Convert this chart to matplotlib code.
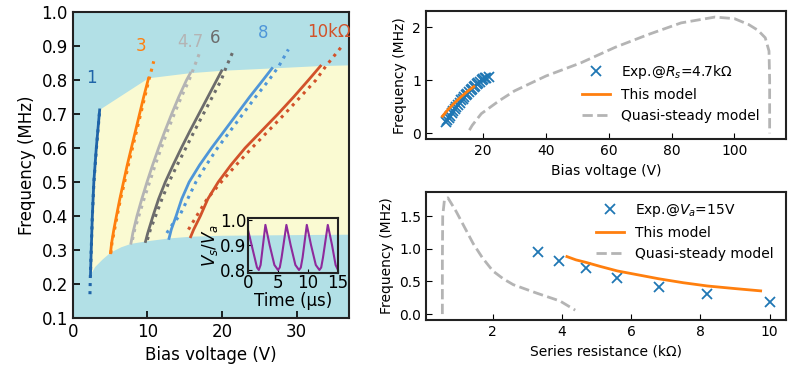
import matplotlib
matplotlib.use('Agg')
import matplotlib.pyplot as plt

plt.rcParams['font.family'] = 'DejaVu Sans'
plt.rcParams['xtick.direction'] = 'in'
plt.rcParams['ytick.direction'] = 'in'
plt.rcParams['axes.edgecolor'] = '#222222'
plt.rcParams['axes.linewidth'] = 1.5

# ---- left panel: frequency vs bias for several series resistances ----
labels = ['1', '3', '4.7', '6', '8', '10k\u03a9']
colors = ['#1f64a8', '#ff7f0e', '#b4b4b4', '#6c6c6c', '#4f96d8', '#d2522a']

model_v = [
    [2.37, 2.47, 2.62, 2.82, 3.15, 3.6],
    [5.06, 5.2, 5.5, 5.85, 6.3, 6.8, 7.3, 7.85, 8.4, 8.95, 9.5, 10.15],
    [7.8, 8.05, 8.6, 9.25, 9.95, 10.7, 11.5, 12.35, 13.25, 14.2, 15.25, 15.75],
    [9.75, 10.05, 10.75, 11.5, 12.4, 13.45, 14.55, 15.7, 16.9, 18.1, 19.3, 19.95],
    [12.9, 13.2, 13.85, 14.6, 15.6, 17.0, 18.6, 20.3, 22.0, 23.7, 25.5, 26.7],
    [15.8, 16.2, 17.1, 18.1, 19.5, 21.2, 23.1, 25.3, 27.5, 29.6, 31.6, 33.2],
]
model_f = [
    [0.226, 0.30, 0.40, 0.50, 0.60, 0.712],
    [0.292, 0.32, 0.36, 0.40, 0.45, 0.50, 0.55, 0.60, 0.65, 0.70, 0.75, 0.805],
    [0.32, 0.35, 0.40, 0.45, 0.50, 0.55, 0.60, 0.65, 0.70, 0.75, 0.80, 0.82],
    [0.325, 0.35, 0.40, 0.45, 0.50, 0.55, 0.60, 0.65, 0.70, 0.75, 0.80, 0.827],
    [0.334, 0.36, 0.40, 0.45, 0.50, 0.55, 0.60, 0.65, 0.70, 0.75, 0.80, 0.834],
    [0.339, 0.36, 0.40, 0.45, 0.50, 0.55, 0.60, 0.65, 0.70, 0.75, 0.80, 0.841],
]
exp_v = [
    [2.3, 2.35, 2.47, 2.62, 2.83, 3.17, 3.62],
    [5.1, 5.25, 5.6, 5.95, 6.4, 6.95, 7.45, 8.0, 8.55, 9.1, 9.65, 10.2, 10.85],
    [8.0, 8.3, 8.85, 9.55, 10.3, 11.05, 11.85, 12.7, 13.6, 14.55, 15.6, 16.3, 17.0],
    [10.0, 10.4, 11.1, 11.95, 12.9, 14.0, 15.15, 16.3, 17.5, 18.7, 19.9, 20.6, 21.6],
    [12.6, 13.5, 14.3, 15.4, 16.5, 17.9, 19.4, 21.1, 22.8, 24.5, 26.3, 27.6, 28.9],
    [15.5, 16.6, 18.0, 19.9, 21.9, 24.0, 26.2, 28.4, 30.5, 32.6, 33.9, 36.1],
]
exp_f = [
    [0.17, 0.22, 0.30, 0.40, 0.50, 0.60, 0.715],
    [0.29, 0.32, 0.36, 0.40, 0.45, 0.50, 0.55, 0.60, 0.65, 0.70, 0.75, 0.80, 0.855],
    [0.33, 0.36, 0.40, 0.45, 0.50, 0.55, 0.60, 0.65, 0.70, 0.75, 0.80, 0.84, 0.88],
    [0.33, 0.36, 0.40, 0.45, 0.50, 0.55, 0.60, 0.65, 0.70, 0.75, 0.80, 0.84, 0.89],
    [0.35, 0.38, 0.40, 0.45, 0.50, 0.55, 0.60, 0.65, 0.70, 0.75, 0.80, 0.84, 0.89],
    [0.36, 0.40, 0.45, 0.50, 0.55, 0.60, 0.65, 0.70, 0.75, 0.80, 0.84, 0.90],
]
label_v = [2.5, 9.1, 15.7, 19.1, 25.5, 34.3]
label_f = [0.807, 0.90, 0.913, 0.923, 0.937, 0.94]

# oscillating region boundaries
upper_v = [3.6, 10.15, 15.75, 19.95, 26.7, 33.2, 37.0]
upper_f = [0.712, 0.805, 0.82, 0.827, 0.834, 0.841, 0.843]
lower_v = [2.37, 3.0, 4.0, 5.06, 6.5, 7.8, 9.75, 12.9, 15.8, 20.0, 37.0]
lower_f = [0.226, 0.25, 0.272, 0.292, 0.308, 0.318, 0.325, 0.334, 0.339, 0.342, 0.345]

# inset waveform
t_us = [0, 0.8, 1.5, 1.8, 2.1, 2.9, 3.6, 4.4, 5.0, 5.3, 5.6, 6.4, 7.1, 7.9,
        8.5, 8.8, 9.1, 9.8, 10.5, 11.3, 11.9, 12.2, 12.5, 13.3, 14.0, 14.6, 15.0]
vs_va = [0.96, 0.88, 0.81, 0.80, 0.82, 0.98, 0.90, 0.82, 0.80, 0.81, 0.85, 0.98,
         0.90, 0.82, 0.80, 0.81, 0.85, 0.98, 0.90, 0.82, 0.80, 0.81, 0.85, 0.98,
         0.90, 0.82, 0.80]

# ---- top right: vs bias at Rs = 4.7k ----
exp_bias = [8.2, 8.6, 9.0, 9.5, 10.0, 10.5, 11.0, 11.5, 12.0, 12.5, 13.0, 13.5,
            14.0, 14.5, 15.0, 15.5, 16.0, 16.5, 17.0, 17.5, 18.0, 18.5, 19.0,
            19.5, 20.0, 20.5, 21.0, 21.7]
exp_bias_f = [0.21, 0.25, 0.29, 0.33, 0.38, 0.42, 0.46, 0.50, 0.54, 0.58, 0.62,
              0.65, 0.69, 0.72, 0.75, 0.78, 0.81, 0.84, 0.87, 0.89, 0.92, 0.95,
              0.97, 1.00, 1.02, 1.04, 1.05, 1.07]
model_bias = [7.0, 9.0, 11.0, 13.0, 15.0, 17.0]
model_bias_f = [0.32, 0.46, 0.58, 0.69, 0.79, 0.88]
qs_bias = [15.6, 16.5, 19.4, 25.0, 30.0, 40.0, 51.2, 62.0, 72.5, 83.0, 93.8,
           100.0, 104.5, 107.5, 109.8, 111.0, 111.2, 111.2]
qs_bias_f = [0.06, 0.15, 0.37, 0.61, 0.80, 1.08, 1.33, 1.62, 1.86, 2.08, 2.19,
             2.16, 2.05, 1.94, 1.80, 1.55, 1.0, 0.0]

# ---- bottom right: vs series resistance at Va = 15 V ----
exp_rs = [3.3, 3.9, 4.7, 5.6, 6.8, 8.2, 10.0]
exp_rs_f = [0.95, 0.81, 0.70, 0.55, 0.42, 0.30, 0.19]
model_rs = [4.14, 4.4, 4.7, 5.1, 5.6, 6.2, 6.8, 7.5, 8.2, 9.0, 9.74]
model_rs_f = [0.88, 0.83, 0.79, 0.73, 0.66, 0.60, 0.54, 0.48, 0.43, 0.39, 0.355]
qs_rs = [0.54, 0.54, 0.55, 0.6, 0.7, 0.94, 1.43, 1.7, 2.0, 2.3, 2.59, 3.27, 3.94, 4.38]
qs_rs_f = [0.0, 0.8, 1.5, 1.75, 1.78, 1.57, 1.08, 0.86, 0.66, 0.54, 0.45, 0.32, 0.20, 0.06]

fig = plt.figure(figsize=(8, 3.75), dpi=100)

ax = fig.add_axes([0.091, 0.152, 0.345, 0.816])
ax.set_facecolor('#b2e0e6')
poly_v = lower_v + upper_v[::-1] + model_v[0][::-1]
poly_f = lower_f + upper_f[::-1] + model_f[0][::-1]
ax.fill(poly_v, poly_f, color='#fafad2', lw=0, zorder=1)
for i in range(len(labels)):
    ax.plot(model_v[i], model_f[i], '-', color=colors[i], lw=2, zorder=3)
    ax.plot(exp_v[i], exp_f[i], ':', color=colors[i], lw=2.2, zorder=3)
    ax.text(label_v[i], label_f[i], labels[i], color=colors[i], fontsize=12,
            ha='center', va='center')
ax.set_xlim(0, 37)
ax.set_ylim(0.1, 1.0)
ax.set_yticks([0.1, 0.2, 0.3, 0.4, 0.5, 0.6, 0.7, 0.8, 0.9, 1.0])
ax.set_xticks([0, 10, 20, 30])
ax.tick_params(labelsize=12, length=5, width=1.2)
ax.set_xlabel('Bias voltage (V)', fontsize=12)
ax.set_ylabel('Frequency (MHz)', fontsize=12)

ins = fig.add_axes([0.31, 0.272, 0.1125, 0.147])
ins.plot(t_us, vs_va, color='#8e2a9c', lw=1.5)
ins.set_facecolor('none')
ins.set_xlim(0, 15)
ins.set_ylim(0.788, 1.008)
ins.set_xticks([0, 5, 10, 15])
ins.set_yticks([0.8, 0.9, 1.0])
ins.tick_params(labelsize=12, length=3, pad=1)
ins.set_xlabel('Time (\u03bcs)', fontsize=12, labelpad=0)
ins.set_ylabel('$V_s/V_a$', fontsize=12, labelpad=0)

ax2 = fig.add_axes([0.5325, 0.629, 0.45, 0.341])
ax2.plot(exp_bias, exp_bias_f, 'x', color='#1f77b4', ms=7, mew=1.3,
         label='Exp.@$R_s$=4.7k\u03a9')
ax2.plot(model_bias, model_bias_f, '-', color='#ff7f0e', lw=2, label='This model')
ax2.plot(qs_bias, qs_bias_f, '--', color='#b4b4b4', lw=2, label='Quasi-steady model')
ax2.set_xticks([20, 40, 60, 80, 100])
ax2.tick_params(labelsize=10, length=4)
ax2.set_xlabel('Bias voltage (V)', fontsize=10)
ax2.set_ylabel('Frequency (MHz)', fontsize=10)
ax2.legend(loc='center', bbox_to_anchor=(0.68, 0.36), frameon=False, fontsize=10)

ax3 = fig.add_axes([0.5325, 0.147, 0.45, 0.341])
ax3.plot(exp_rs, exp_rs_f, 'x', color='#1f77b4', ms=7, mew=1.3,
         label='Exp.@$V_a$=15V')
ax3.plot(model_rs, model_rs_f, '-', color='#ff7f0e', lw=2, label='This model')
ax3.plot(qs_rs, qs_rs_f, '--', color='#b4b4b4', lw=2, label='Quasi-steady model')
ax3.set_xticks([2, 4, 6, 8, 10])
ax3.set_yticks([0.0, 0.5, 1.0, 1.5])
ax3.tick_params(labelsize=10, length=4)
ax3.set_xlabel('Series resistance (k\u03a9)', fontsize=10)
ax3.set_ylabel('Frequency (MHz)', fontsize=10)
ax3.legend(loc='upper right', bbox_to_anchor=(1.0, 1.02), frameon=False, fontsize=10)

fig.savefig('out.png', dpi=100)
